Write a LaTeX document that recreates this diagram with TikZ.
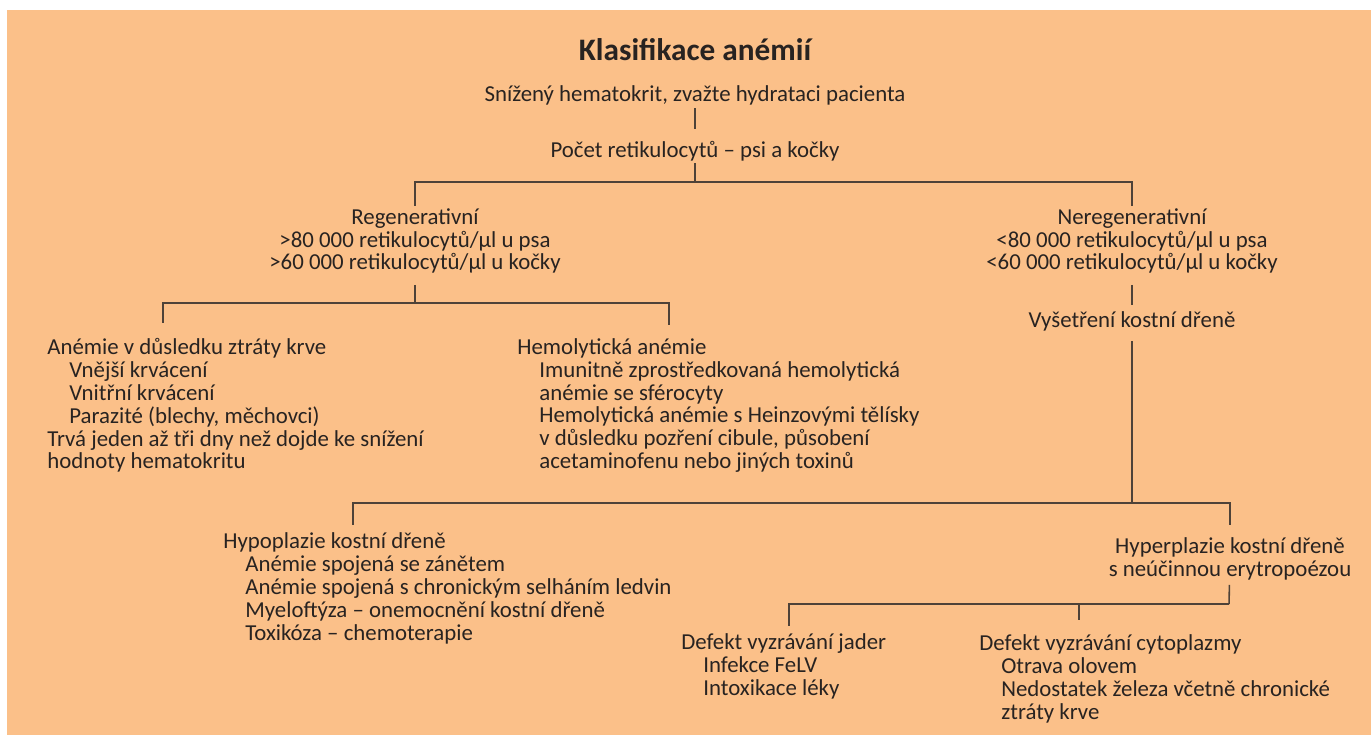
\documentclass[tikz,border=0pt]{standalone}
\usepackage{fontspec}
\setmainfont{Carlito}
\usepackage{xcolor}
\usepackage{tikz}

\definecolor{bgorange}{RGB}{251,192,137}
\definecolor{inkgray}{RGB}{40,35,33}
\definecolor{linegray}{RGB}{78,66,56}

% indent for sub-items
\newcommand{\ind}{\hspace*{12.5pt}}

\begin{document}
\begin{tikzpicture}[
    x=0.02cm, y=-0.02cm,
    txt/.style={font=\fontsize{13}{13}\selectfont, text=inkgray, inner sep=0pt},
    head/.style={txt, align=center},
    list/.style={txt, align=left, anchor=west},
    conn/.style={draw=linegray, line width=0.9pt},
]

\useasboundingbox (0,0) rectangle (1371,735);
\fill[bgorange] (7,10) rectangle (1371,735);

% top of the tree
\node[txt, font=\fontsize{17.8}{18}\selectfont\bfseries] (title) at (695,50) {Klasifikace anémií};
\node[head] (hct) at (695,95) {Snížený hematokrit, zvažte hydrataci pacienta};
\node[head] (retic) at (695,151) {Počet retikulocytů – psi a kočky};

\node[head] (regen) at (415,241) {Regenerativní\\>80 000 retikulocytů/µl u psa\\>60 000 retikulocytů/µl u kočky};
\node[head] (nonregen) at (1132,241) {Neregenerativní\\<80 000 retikulocytů/µl u psa\\<60 000 retikulocytů/µl u kočky};
\node[head] (marrow) at (1132,321) {Vyšetření kostní dřeně};

% regenerative branch
\node[list] (loss) at (47,405.5) {Anémie v důsledku ztráty krve\\
    \ind Vnější krvácení\\
    \ind Vnitřní krvácení\\
    \ind Parazité (blechy, měchovci)\\
    Trvá jeden až tři dny než dojde ke snížení\\
    hodnoty hematokritu};
\node[list] (hemo) at (517,405.5) {Hemolytická anémie\\
    \ind Imunitně zprostředkovaná hemolytická\\
    \ind anémie se sférocyty\\
    \ind Hemolytická anémie s Heinzovými tělísky\\
    \ind v důsledku pozření cibule, působení\\
    \ind acetaminofenu nebo jiných toxinů};

% non-regenerative branch
\node[list] (hypo) at (223,588.5) {Hypoplazie kostní dřeně\\
    \ind Anémie spojená se zánětem\\
    \ind Anémie spojená s chronickým selháním ledvin\\
    \ind Myeloftýza – onemocnění kostní dřeně\\
    \ind Toxikóza – chemoterapie};
\node[head] (hyper) at (1230,558.5) {Hyperplazie kostní dřeně\\s neúčinnou erytropoézou};
\node[list] (nucl) at (681,666.5) {Defekt vyzrávání jader\\
    \ind Infekce FeLV\\
    \ind Intoxikace léky};
\node[list] (cyto) at (979,679) {Defekt vyzrávání cytoplazmy\\
    \ind Otrava olovem\\
    \ind Nedostatek železa včetně chronické\\
    \ind ztráty krve};

% split points and drop ends
\coordinate (s1) at (695,182);
\coordinate (s2) at (415,303);
\coordinate (s3) at (1132,503);
\coordinate (s4) at (1229,604);
\coordinate (lossin) at (163,323);
\coordinate (hemoin) at (669,325);
\coordinate (hypoin) at (353,525);
\coordinate (nuclin) at (789,626);
\coordinate (cytoin) at (1079,620);

% connectors
\draw[conn, shorten <=1.7pt, shorten >=6.5pt] (hct) -- (retic);
\draw[conn, shorten <=1.1pt] (retic) -- (s1);
\draw[conn, shorten >=1.4pt] (s1) -| (regen);
\draw[conn, shorten >=1.4pt] (s1) -| (nonregen);
\draw[conn, shorten <=6.2pt] (regen) -- (s2);
\draw[conn] (s2) -| (lossin);
\draw[conn] (s2) -| (hemoin);
\draw[conn, shorten <=6.2pt, shorten >=3.6pt] (nonregen) -- (marrow);
\draw[conn, shorten <=5.7pt] (marrow) -- (s3);
\draw[conn] (s3) -| (hypoin);
\draw[conn, shorten >=7pt] (s3) -| (hyper);
\draw[conn, shorten <=2.8pt] (hyper) -- (s4);
\draw[conn] (s4) -| (nuclin);
\draw[conn] (cytoin |- s4) -- (cytoin);

\end{tikzpicture}
\end{document}
